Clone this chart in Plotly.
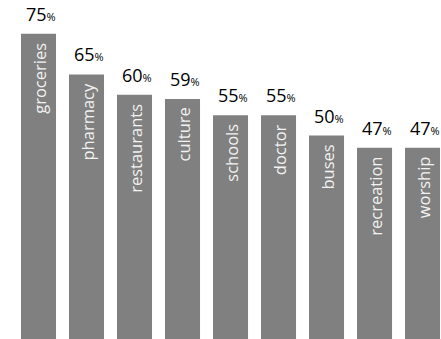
import plotly.graph_objects as go

categories = ["groceries", "pharmacy", "restaurants", "culture", "schools",
              "doctor", "buses", "recreation", "worship"]
values = [75, 65, 60, 59, 55, 55, 50, 47, 47]

FONT = "Open Sans"
xs = list(range(len(categories)))

fig = go.Figure()
fig.add_trace(go.Bar(
    x=xs, y=values, width=0.73,
    marker=dict(color="#808080", line=dict(width=0)),
    hoverinfo="skip",
))

annotations = []
for i, (c, v) in enumerate(zip(categories, values)):
    annotations.append(dict(
        x=i, y=v, xref="x", yref="y",
        text=f"{v}<span style='font-size:11px'>%</span>",
        showarrow=False, xanchor="center", yanchor="bottom",
        xshift=2, yshift=6,
        font=dict(family=FONT, size=18, color="#000000"),
    ))
    annotations.append(dict(
        x=i, y=v, xref="x", yref="y",
        text=c, textangle=-90,
        showarrow=False, xanchor="center", yanchor="top",
        xshift=1, yshift=-7,
        font=dict(family=FONT, size=16.5, color="#f2f2f2"),
    ))

fig.update_layout(
    width=441, height=339,
    margin=dict(l=0, r=0, t=0, b=0),
    paper_bgcolor="white", plot_bgcolor="white",
    showlegend=False,
    annotations=annotations,
    xaxis=dict(range=[-0.802, 8.385], visible=False, fixedrange=True),
    yaxis=dict(range=[0, 83.3], visible=False, fixedrange=True),
)

fig.write_html("out.html", config={"displayModeBar": False})
